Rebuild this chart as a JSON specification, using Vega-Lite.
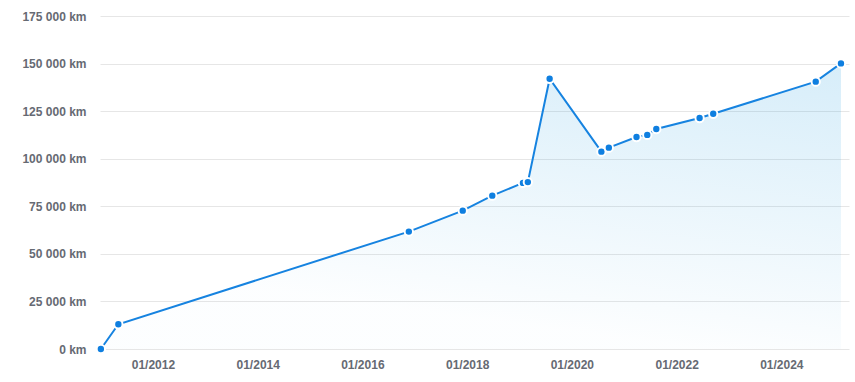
{
  "$schema": "https://vega.github.io/schema/vega-lite/v6.json",
  "autosize": "none",
  "width": 749,
  "height": 333,
  "padding": {"left": 100, "top": 16, "right": 6, "bottom": 33},
  "background": "white",
  "config": {"view": {"stroke": null}},
  "data": {"values": [
    {"date": "2011-01-03", "km": 0},
    {"date": "2011-05-05", "km": 13000},
    {"date": "2016-11-20", "km": 61700},
    {"date": "2017-12-01", "km": 72700},
    {"date": "2018-06-25", "km": 80600},
    {"date": "2019-01-25", "km": 87300},
    {"date": "2019-02-28", "km": 87700},
    {"date": "2019-07-30", "km": 142000},
    {"date": "2020-07-25", "km": 103700},
    {"date": "2020-09-15", "km": 105800},
    {"date": "2021-03-27", "km": 111400},
    {"date": "2021-06-10", "km": 112500},
    {"date": "2021-08-12", "km": 115600},
    {"date": "2022-06-10", "km": 121400},
    {"date": "2022-09-13", "km": 123600},
    {"date": "2024-08-28", "km": 140500},
    {"date": "2025-02-20", "km": 150100}
  ]},
  "encoding": {
    "x": {
      "field": "date", "type": "temporal", "title": null,
      "scale": {"domain": [{"year": 2010, "month": 12, "date": 28}, {"year": 2025, "month": 4, "date": 17}]},
      "axis": {
        "values": [
          {"year": 2012, "month": 1, "date": 1},
          {"year": 2014, "month": 1, "date": 1},
          {"year": 2016, "month": 1, "date": 1},
          {"year": 2018, "month": 1, "date": 1},
          {"year": 2020, "month": 1, "date": 1},
          {"year": 2022, "month": 1, "date": 1},
          {"year": 2024, "month": 1, "date": 1}
        ],
        "format": "%m/%Y",
        "grid": false, "ticks": false, "domain": false,
        "labelPadding": 10,
        "labelFont": "Liberation Sans", "labelFontWeight": "bold", "labelFontSize": 12,
        "labelColor": "#666a73"
      }
    },
    "y": {
      "field": "km", "type": "quantitative", "title": null,
      "scale": {"domain": [0, 175000], "nice": false},
      "axis": {
        "values": [0, 25000, 50000, 75000, 100000, 125000, 150000, 175000],
        "labelExpr": "replace(format(datum.value, ','), ',', ' ') + ' km'",
        "grid": true, "gridColor": "#e6e6e6", "gridWidth": 1,
        "ticks": false, "domain": false,
        "labelPadding": 14,
        "labelFont": "Liberation Sans", "labelFontWeight": "bold", "labelFontSize": 12,
        "labelColor": "#666a73"
      }
    }
  },
  "layer": [
    {
      "mark": {
        "type": "area",
        "color": {
          "gradient": "linear", "x1": 1, "y1": 0, "x2": 0.65, "y2": 1,
          "stops": [
            {"offset": 0, "color": "rgba(40,160,225,0.19)"},
            {"offset": 0.95, "color": "rgba(40,160,225,0.01)"}
          ]
        }
      }
    },
    {"mark": {"type": "line", "color": "#1683e0", "strokeWidth": 2}},
    {"mark": {"type": "point", "filled": true, "fill": "#0f7fe0", "stroke": "white", "strokeWidth": 2, "size": 70, "opacity": 1}}
  ]
}
